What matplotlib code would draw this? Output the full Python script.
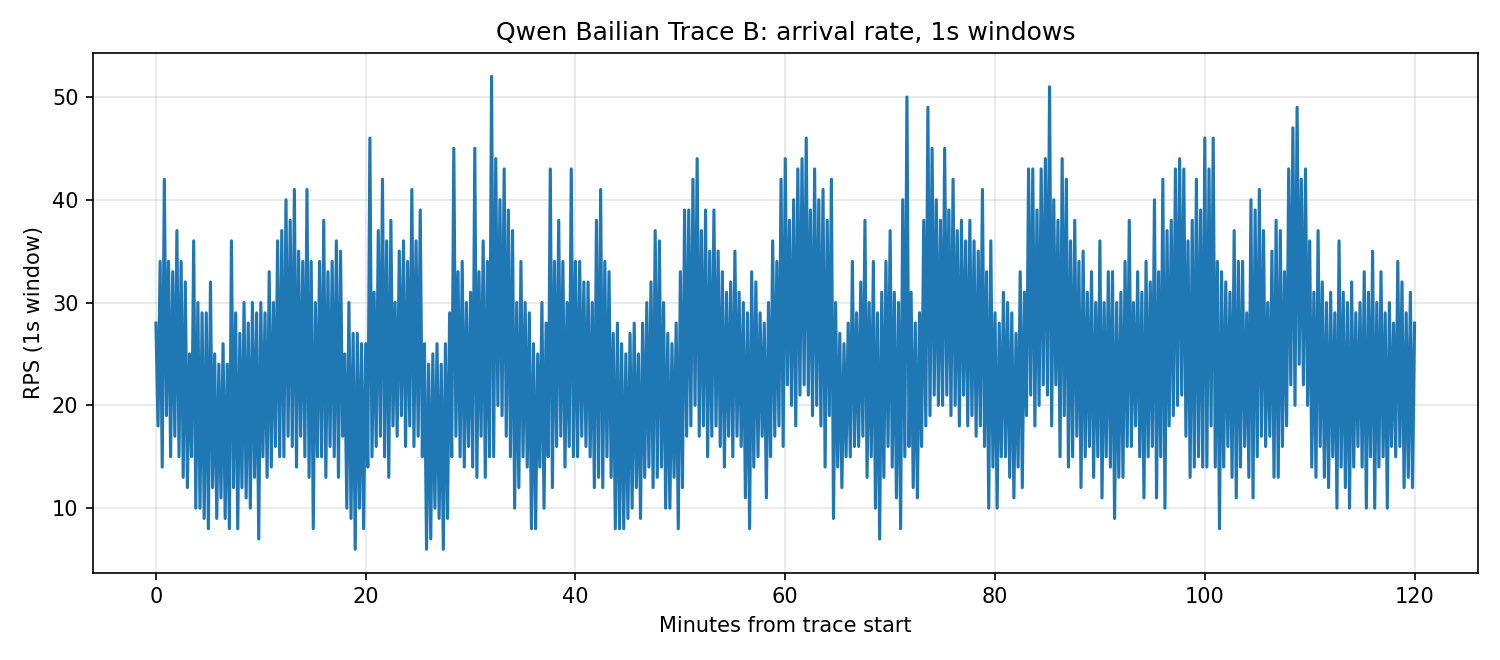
import numpy as np
import matplotlib
matplotlib.use("Agg")
import matplotlib.pyplot as plt

# RPS, one row per minute, samples every 12 s
# (rows alternate peak/trough so the dense 1s trace reads as a band)
rps_rows = [
    [28, 18, 34, 14, 42], [19, 34, 15, 33, 17], [37, 15, 34, 13, 32], [12, 25, 15, 36, 10],
    [30, 10, 29, 9, 29], [8, 32, 12, 25, 9], [24, 11, 26, 9, 24], [8, 36, 12, 29, 8],
    [27, 12, 30, 11, 28], [10, 30, 13, 29, 7], [30, 15, 29, 13, 33], [14, 30, 16, 36, 15],
    [37, 15, 40, 17, 38], [16, 41, 14, 35, 17], [34, 15, 41, 13, 34], [8, 30, 15, 34, 15],
    [38, 13, 33, 16, 34], [15, 36, 13, 35, 17], [25, 10, 30, 9, 27], [6, 27, 10, 26, 8],
    [26, 14, 46, 15, 31], [16, 37, 17, 42, 15], [36, 13, 38, 18, 30], [17, 35, 19, 36, 16],
    [34, 18, 41, 16, 36], [17, 39, 15, 26, 6], [24, 7, 25, 10, 26], [9, 24, 6, 26, 9],
    [29, 15, 45, 17, 33], [15, 34, 14, 30, 16], [31, 14, 45, 13, 33], [17, 36, 13, 34, 15],
    [52, 15, 44, 20, 40], [19, 43, 17, 39, 15], [37, 10, 30, 12, 34], [15, 30, 14, 29, 8],
    [26, 8, 25, 14, 30], [10, 28, 15, 43, 12], [34, 16, 38, 17, 34], [14, 30, 16, 43, 15],
    [34, 15, 34, 17, 32], [16, 32, 15, 30, 12], [38, 13, 41, 12, 34], [15, 33, 13, 27, 8],
    [28, 8, 26, 8, 25], [9, 27, 10, 28, 12], [25, 9, 28, 13, 30], [14, 32, 12, 37, 13],
    [36, 14, 30, 10, 27], [10, 26, 13, 28, 8], [33, 12, 39, 17, 39], [18, 42, 20, 44, 17],
    [37, 18, 39, 15, 35], [17, 39, 18, 35, 16], [33, 14, 31, 17, 32], [15, 35, 17, 31, 16],
    [30, 11, 29, 8, 33], [14, 32, 15, 29, 17], [28, 11, 30, 15, 36], [17, 34, 18, 42, 16],
    [44, 22, 38, 20, 40], [18, 43, 21, 44, 22], [46, 21, 39, 19, 43], [20, 40, 18, 41, 14],
    [38, 19, 42, 9, 30], [14, 27, 12, 26, 15], [28, 15, 34, 16, 29], [16, 32, 17, 38, 13],
    [30, 15, 34, 10, 29], [7, 31, 13, 34, 16], [37, 14, 31, 11, 30], [8, 40, 15, 50, 16],
    [31, 12, 28, 11, 29], [16, 38, 18, 49, 19], [45, 21, 40, 20, 38], [20, 45, 21, 39, 19],
    [42, 20, 37, 18, 38], [21, 36, 18, 38, 19], [36, 17, 35, 18, 41], [16, 33, 10, 36, 14],
    [29, 10, 28, 15, 31], [15, 30, 13, 29, 11], [27, 14, 33, 12, 31], [19, 43, 21, 43, 18],
    [39, 20, 43, 22, 44], [21, 51, 18, 40, 22], [38, 15, 44, 19, 42], [14, 36, 15, 38, 17],
    [34, 12, 35, 15, 31], [16, 33, 13, 30, 15], [36, 11, 30, 15, 33], [14, 33, 9, 30, 13],
    [31, 13, 34, 16, 38], [16, 30, 18, 33, 15], [31, 11, 34, 15, 32], [16, 40, 11, 33, 15],
    [42, 10, 37, 18, 38], [19, 43, 20, 44, 21], [43, 17, 36, 13, 38], [14, 42, 15, 39, 14],
    [46, 14, 43, 18, 46], [14, 34, 8, 33, 14], [32, 16, 31, 13, 37], [11, 34, 14, 34, 16],
    [29, 13, 40, 11, 39], [15, 41, 17, 37, 16], [30, 17, 35, 13, 38], [13, 37, 16, 33, 18],
    [43, 22, 47, 20, 49], [24, 42, 22, 43, 20], [36, 14, 31, 13, 37], [16, 32, 13, 30, 12],
    [31, 15, 29, 10, 36], [14, 31, 12, 30, 10], [32, 14, 29, 16, 30], [14, 33, 10, 31, 15],
    [35, 10, 30, 14, 33], [15, 29, 10, 30, 16], [28, 15, 34, 16, 32], [12, 29, 13, 31, 12],
]
rps_last = 28
sample_step_min = 0.2

rps = np.array([v for row in rps_rows for v in row] + [rps_last], dtype=float)
minutes = np.arange(len(rps)) * sample_step_min

fig, ax = plt.subplots(figsize=(10, 4.4), dpi=150)
ax.plot(minutes, rps, color="#1f77b4", lw=1.5)
ax.set_title("Qwen Bailian Trace B: arrival rate, 1s windows")
ax.set_xlabel("Minutes from trace start")
ax.set_ylabel("RPS (1s window)")
ax.grid(True, alpha=0.3)
fig.subplots_adjust(left=0.062, right=0.985, top=0.92, bottom=0.132)
fig.savefig("out.png", dpi=150)
